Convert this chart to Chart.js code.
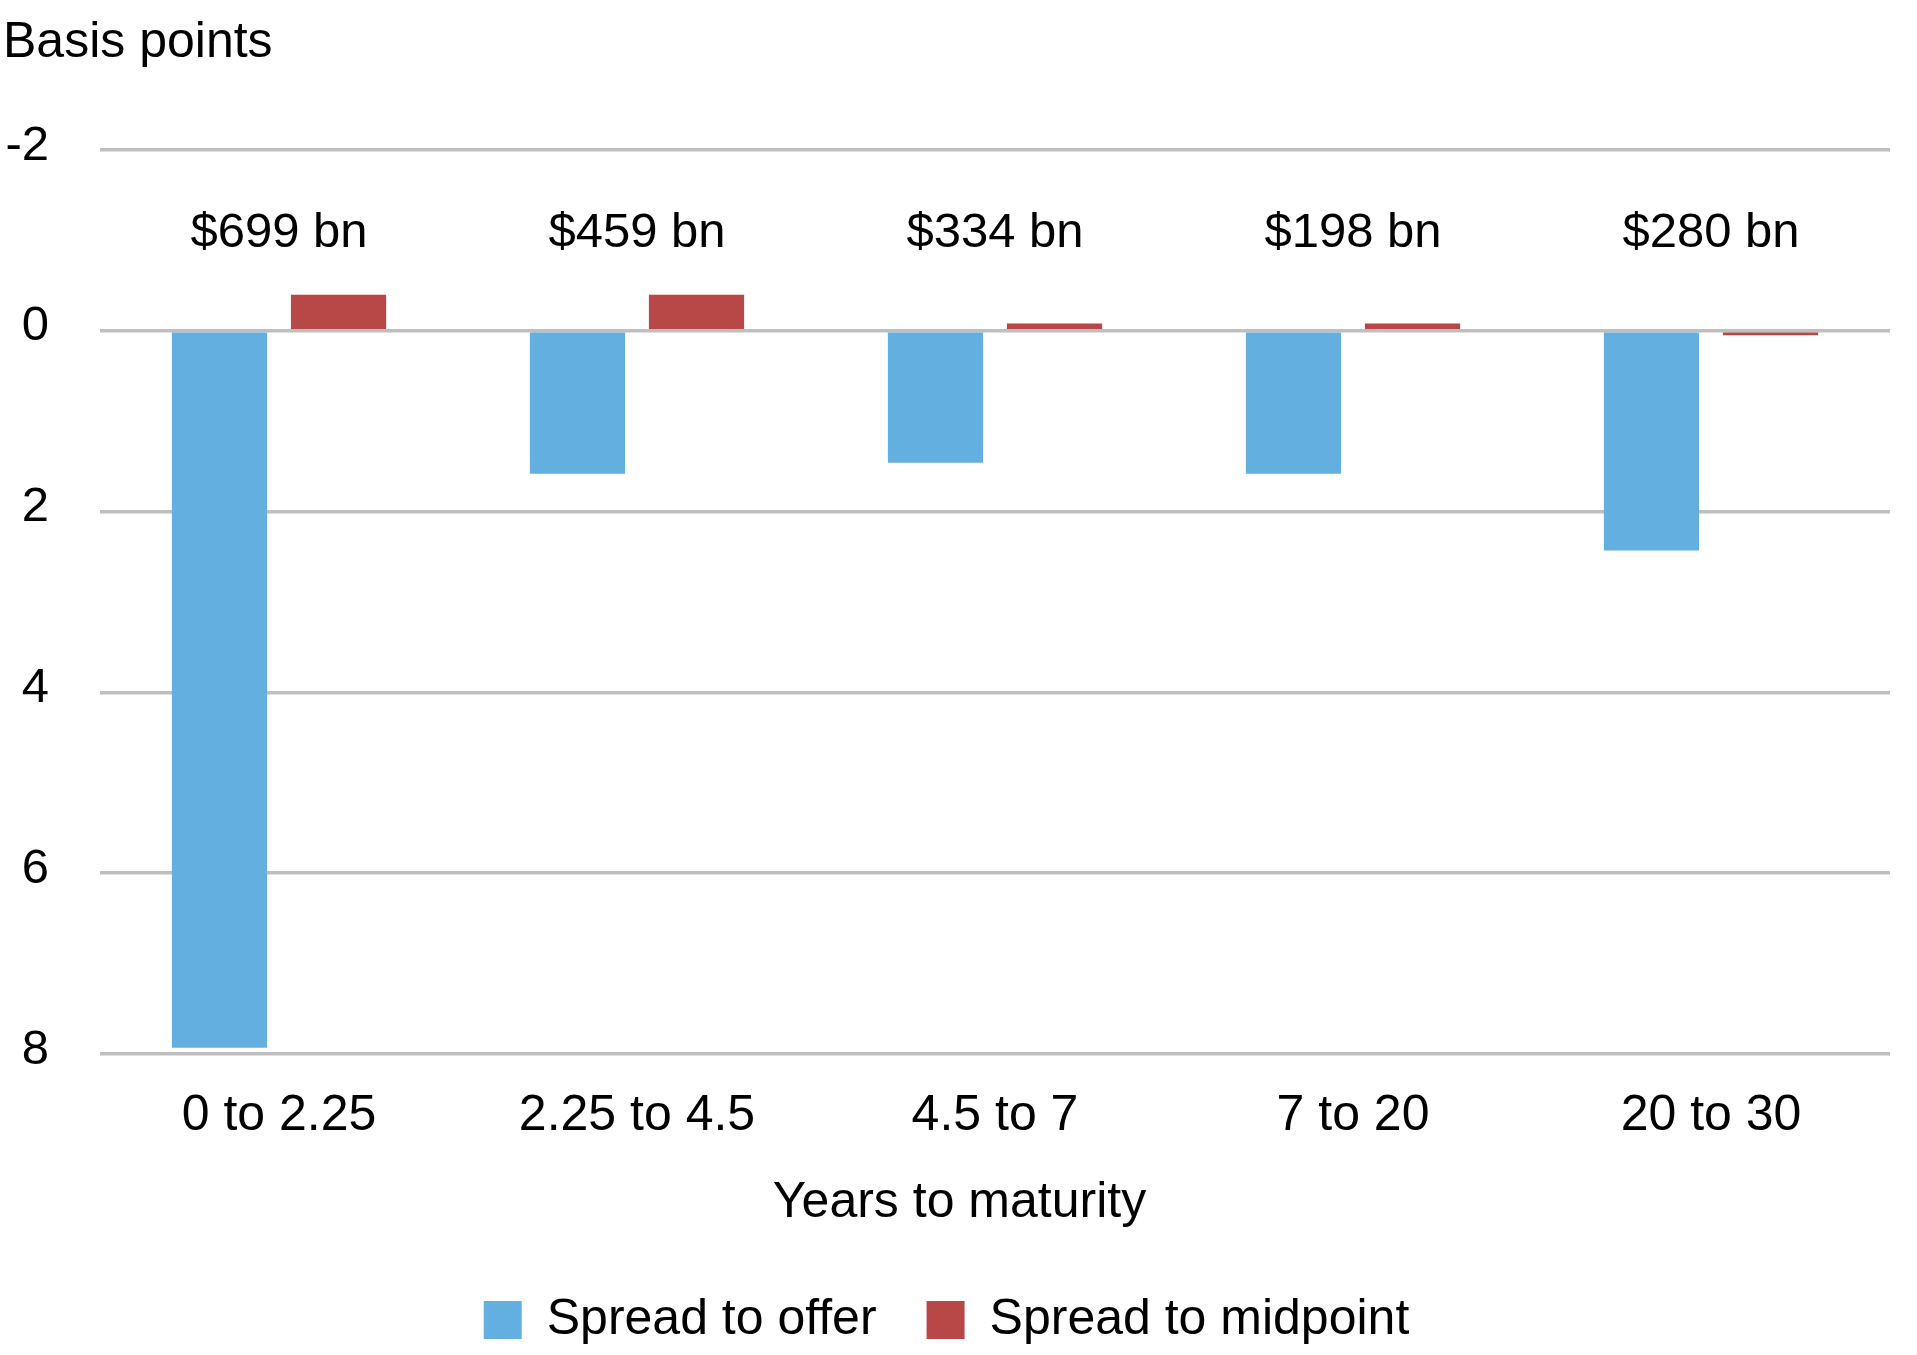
<!DOCTYPE html>
<html>
<head>
<meta charset="utf-8">
<title>Spread by maturity</title>
<script src="https://cdn.jsdelivr.net/npm/chart.js@4.4.1/dist/chart.umd.min.js"></script>
<style>
  html, body { margin: 0; padding: 0; background: #fff; }
  #wrap { width: 1917px; height: 1355px; }
</style>
</head>
<body>
<div id="wrap"><canvas id="spreadChart" width="1917" height="1355"></canvas></div>
<script>
// values (basis points, axis drawn upside down)
const maturities = ['0 to 2.25', '2.25 to 4.5', '4.5 to 7', '7 to 20', '20 to 30'];
const spreadToOffer = [7.93, 1.58, 1.46, 1.58, 2.43];
const spreadToMid = [-0.40, -0.40, -0.08, -0.08, 0.05];
const amounts = ['$699 bn', '$459 bn', '$334 bn', '$198 bn', '$280 bn'];
const yTicks = [-2, 0, 2, 4, 6, 8];

const amountRow = -1.08;   // where the amount labels sit on the y scale
const FONT = 'Liberation Sans, Arial, Helvetica, sans-serif';

Chart.defaults.font.family = FONT;
Chart.defaults.font.size = 50;
Chart.defaults.color = '#000';

// amounts above each group, plus the x axis title (centred on the page, not the plot)
const extraText = {
    id: 'extraText',
    afterDatasetsDraw(chart) {
        const { ctx, scales: { x, y } } = chart;
        ctx.save();
        ctx.fillStyle = '#000';
        ctx.textAlign = 'center';
        ctx.textBaseline = 'middle';
        ctx.font = '49px ' + FONT;
        amounts.forEach((txt, i) => {
            ctx.fillText(txt, x.getPixelForValue(i), y.getPixelForValue(amountRow));
        });
        ctx.font = '50px ' + FONT;
        ctx.fillText('Years to maturity', chart.width / 2 + 1, x.bottom - 42);
        ctx.restore();
    }
};

new Chart(document.getElementById('spreadChart'), {
    type: 'bar',
    data: {
        labels: maturities,
        datasets: [
            {
                label: 'Spread to offer',
                data: spreadToOffer,
                backgroundColor: '#62AFE0',
                categoryPercentage: 0.665,
                barPercentage: 0.8
            },
            {
                label: 'Spread to midpoint',
                data: spreadToMid,
                backgroundColor: '#B84747',
                categoryPercentage: 0.665,
                barPercentage: 0.8
            }
        ]
    },
    options: {
        responsive: false,
        animation: false,
        devicePixelRatio: 1,
        layout: { padding: { left: 3, right: 27, top: 0, bottom: 0 } },
        scales: {
            x: {
                grid: { display: false },
                border: { display: false },
                ticks: { padding: 24, maxRotation: 0 },
                // chart.js counts tick padding twice when sizing, so pin the height
                afterFit(axis) { axis.height = 191; }
            },
            y: {
                reverse: true,
                min: -2,
                max: 8,
                afterBuildTicks(axis) {
                    axis.ticks = yTicks.map(v => ({ value: v }));
                },
                grid: { color: '#BFBFBF', lineWidth: 3.5, drawTicks: false },
                border: { display: false },
                ticks: { padding: 51, labelOffset: -4, font: { size: 49 } },
                afterFit(axis) { axis.width = 97; }
            }
        },
        plugins: {
            title: {
                display: true,
                text: 'Basis points',
                align: 'start',
                font: { size: 50, weight: 'normal' },
                padding: { top: 13, bottom: 77 }
            },
            legend: {
                position: 'bottom',
                labels: {
                    boxWidth: 38,
                    boxHeight: 38,
                    padding: 50
                }
            },
            tooltip: { enabled: false }
        }
    },
    plugins: [extraText]
});
</script>
</body>
</html>
